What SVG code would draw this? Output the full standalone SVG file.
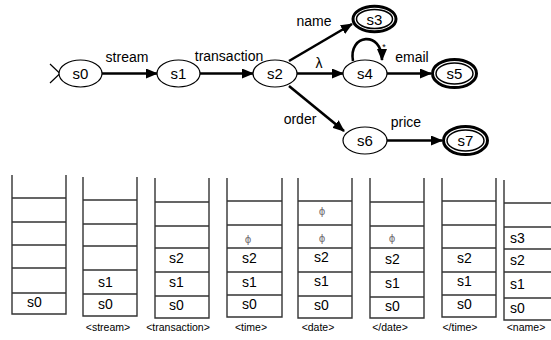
<svg xmlns="http://www.w3.org/2000/svg" width="551" height="340" viewBox="0 0 551 340">
<defs>
<marker id="ah" markerWidth="12" markerHeight="10" refX="11" refY="5" orient="auto" markerUnits="userSpaceOnUse">
<path d="M0,0 L12,5 L0,10 Z" fill="#000"/>
</marker>
<style>
.node{fill:#fff;stroke:#000;stroke-width:1.2}
.fo{fill:#fff;stroke:#000;stroke-width:3}
.fi{fill:none;stroke:#000;stroke-width:1.5}
.nl{font-family:"Liberation Sans",Arial,sans-serif;font-size:15px;text-anchor:middle;fill:#000}
.el{font-family:"Liberation Sans",Arial,sans-serif;font-size:14px;text-anchor:middle;fill:#000}
.edge{stroke:#000;stroke-width:2.6;fill:none;marker-end:url(#ah)}
.stk{stroke:#333;stroke-width:1.4;fill:none}
.cl{font-family:"Liberation Sans",Arial,sans-serif;font-size:14px;fill:#000}
.phi{font-family:"DejaVu Sans",sans-serif;font-size:10px;fill:#6e6e6e;text-anchor:middle}
.sl{font-family:"Liberation Sans",Arial,sans-serif;font-size:10.5px;text-anchor:middle;fill:#000}
</style>
</defs>

<g id="connectors">
<path d="M50,64 L60,73.5 L50,83" stroke="#000" stroke-width="1.2" fill="none"/>
<line class="edge" x1="102" y1="73.5" x2="157" y2="73.5"/>
<line class="edge" x1="200" y1="73.5" x2="253" y2="73.5"/>
<line class="edge" x1="289" y1="61" x2="352" y2="24"/>
<line class="edge" x1="297" y1="73.5" x2="343" y2="73.5"/>
<path class="edge" d="M353,61 C348,34 382,30 382,60"/>
<line class="edge" x1="387" y1="73.5" x2="431" y2="73.5"/>
<line class="edge" x1="289" y1="86" x2="344" y2="131"/>
<line class="edge" x1="387" y1="140.5" x2="442" y2="140.5"/>
<text class="el" x="127" y="62">stream</text>
<text class="el" x="229" y="61">transaction</text>
<text class="el" x="314" y="26">name</text>
<text class="el" x="319" y="68" font-family="DejaVu Sans">λ</text>
<text x="384" y="50" font-family="Liberation Sans,Arial,sans-serif" font-size="9" text-anchor="middle">*</text>
<text class="el" x="412" y="62">email</text>
<text class="el" x="300" y="124">order</text>
<text class="el" x="406" y="127">price</text>
</g>

<g id="s0"><ellipse class="node" cx="80.5" cy="73.5" rx="21.5" ry="13.5"/><text class="nl" x="80.5" y="79">s0</text></g>
<g id="s1"><ellipse class="node" cx="178.5" cy="73.5" rx="21.5" ry="13.5"/><text class="nl" x="178.5" y="79">s1</text></g>
<g id="s2"><ellipse class="node" cx="275" cy="73.5" rx="22" ry="13.5"/><text class="nl" x="275" y="79">s2</text></g>
<g id="s3"><ellipse class="fo" cx="374.5" cy="19" rx="21.5" ry="12.8"/><ellipse class="fi" cx="374.5" cy="19" rx="18" ry="9.5"/><text class="nl" x="374.5" y="24.5">s3</text></g>
<g id="s4"><ellipse class="node" cx="365" cy="73.5" rx="22" ry="13.5"/><text class="nl" x="365" y="79">s4</text></g>
<g id="s5"><ellipse class="fo" cx="454.5" cy="73.5" rx="22" ry="14"/><ellipse class="fi" cx="454.5" cy="73.5" rx="18.5" ry="10.5"/><text class="nl" x="454.5" y="79">s5</text></g>
<g id="s6"><ellipse class="node" cx="365" cy="140.5" rx="22" ry="13.5"/><text class="nl" x="365" y="146">s6</text></g>
<g id="s7"><ellipse class="fo" cx="465.5" cy="140.5" rx="22" ry="14"/><ellipse class="fi" cx="465.5" cy="140.5" rx="18.5" ry="10.5"/><text class="nl" x="465.5" y="146">s7</text></g>

<g id="stack1">
<path class="stk" d="M12,175 V314 H66 V175 M12,198 H66 M12,222 H66 M12,245 H66 M12,268 H66 M12,293 H66"/>
<text class="cl" x="27" y="307">s0</text>
</g>
<g id="stack2">
<path class="stk" d="M83,177 V316 H137 V177 M83,200 H137 M83,224 H137 M83,246 H137 M83,270 H137 M83,294 H137"/>
<text class="cl" x="98" y="309">s0</text>
<text class="cl" x="98" y="287">s1</text>
<text class="sl" x="108" y="331">&lt;stream&gt;</text>
</g>
<g id="stack3">
<path class="stk" d="M155,178 V318 H209 V178 M155,202 H209 M155,226 H209 M155,248 H209 M155,272 H209 M155,296 H209"/>
<text class="cl" x="169" y="310">s0</text>
<text class="cl" x="169" y="287">s1</text>
<text class="cl" x="169" y="263">s2</text>
<text class="sl" x="178" y="331">&lt;transaction&gt;</text>
</g>
<g id="stack4">
<path class="stk" d="M227,178 V317 H282 V178 M227,201 H282 M227,225 H282 M227,248 H282 M227,272 H282 M227,295 H282"/>
<text class="cl" x="242" y="309">s0</text>
<text class="cl" x="242" y="287">s1</text>
<text class="cl" x="242" y="263">s2</text>
<text class="phi" x="248" y="243">ϕ</text>
<text class="sl" x="251" y="331">&lt;time&gt;</text>
</g>
<g id="stack5">
<path class="stk" d="M298,178 V318 H352 V178 M298,201 H352 M298,225 H352 M298,248 H352 M298,272 H352 M298,296 H352"/>
<text class="cl" x="314" y="310">s0</text>
<text class="cl" x="314" y="286">s1</text>
<text class="cl" x="314" y="262">s2</text>
<text class="phi" x="322" y="242">ϕ</text>
<text class="phi" x="322" y="215">ϕ</text>
<text class="sl" x="318" y="331">&lt;date&gt;</text>
</g>
<g id="stack6">
<path class="stk" d="M370,178 V318 H424 V178 M370,202 H424 M370,226 H424 M370,248 H424 M370,272 H424 M370,297 H424"/>
<text class="cl" x="385" y="311">s0</text>
<text class="cl" x="385" y="288">s1</text>
<text class="cl" x="385" y="264">s2</text>
<text class="phi" x="392" y="242">ϕ</text>
<text class="sl" x="390" y="331">&lt;/date&gt;</text>
</g>
<g id="stack7">
<path class="stk" d="M442,178 V317 H496 V178 M442,201 H496 M442,225 H496 M442,248 H496 M442,272 H496 M442,295 H496"/>
<text class="cl" x="457" y="309">s0</text>
<text class="cl" x="457" y="286">s1</text>
<text class="cl" x="457" y="263">s2</text>
<text class="sl" x="460" y="331">&lt;/time&gt;</text>
</g>
<g id="stack8">
<path class="stk" d="M504,180 V320 H551 M504,203 H551 M504,227 H551 M504,249 H551 M504,272 H551 M504,298 H551"/>
<text class="cl" x="510" y="313">s0</text>
<text class="cl" x="510" y="289">s1</text>
<text class="cl" x="510" y="265">s2</text>
<text class="cl" x="510" y="243">s3</text>
<text class="sl" x="526" y="331">&lt;name&gt;</text>
</g>
</svg>
